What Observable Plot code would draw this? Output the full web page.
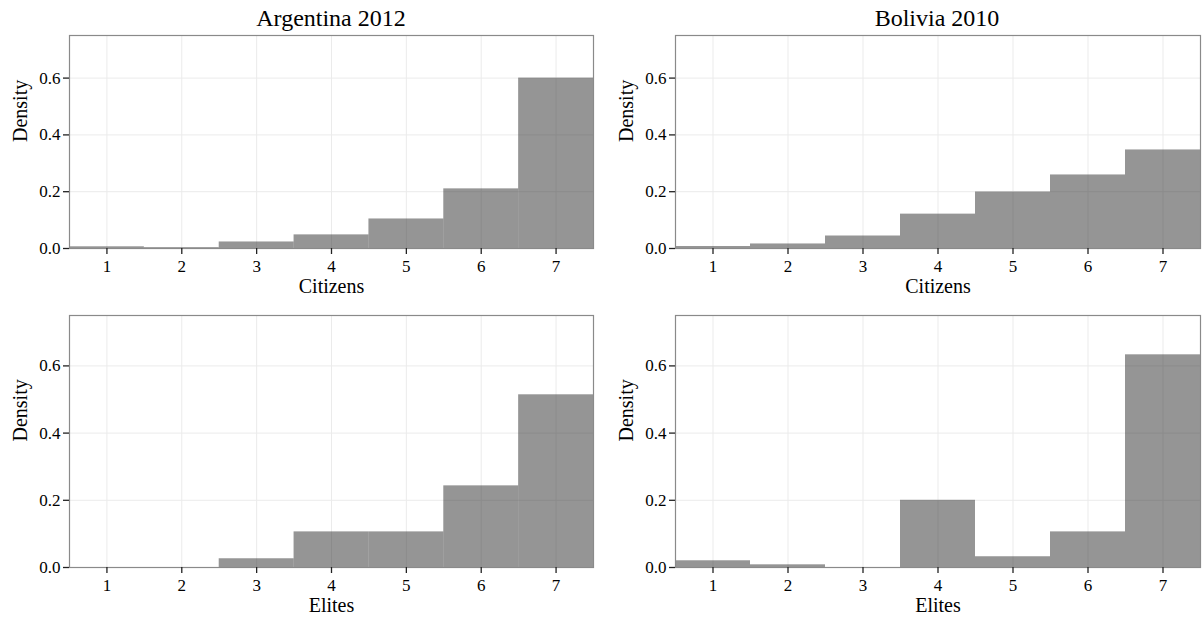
<!DOCTYPE html>
<html>
<head>
<meta charset="utf-8">
<script src="https://cdn.jsdelivr.net/npm/d3@7"></script>
<script src="https://cdn.jsdelivr.net/npm/@observablehq/plot@0.6"></script>
<style>
  html, body { margin: 0; padding: 0; background: #fff; }
  #wrap { position: relative; width: 1204px; height: 617px; font-family: "Liberation Serif", "Times New Roman", serif; }
  .panel { position: absolute; }
  .title { position: absolute; font-size: 24px; color: #000; text-align: center; width: 524px; line-height: 1; }
</style>
</head>
<body>
<div id="wrap"></div>
<script>
// Response categories (1..7)
const categories = [1, 2, 3, 4, 5, 6, 7];
// Density values
const argentinaCitizens = [0.006, 0.003, 0.023, 0.048, 0.104, 0.210, 0.600];
const boliviaCitizens   = [0.007, 0.016, 0.044, 0.121, 0.199, 0.259, 0.347];
const argentinaElites   = [0.000, 0.000, 0.026, 0.106, 0.106, 0.243, 0.514];
const boliviaElites     = [0.020, 0.008, 0.000, 0.200, 0.032, 0.106, 0.633];
const yTicks = [0, 0.2, 0.4, 0.6];
const titles = ["Argentina 2012", "Bolivia 2010"];

const panels = [
  {values: argentinaCitizens, label: "Citizens", left: 0,   top: 0,   height: 300, mL: 69, mR: 9, mT: 35, mB: 52},
  {values: boliviaCitizens,   label: "Citizens", left: 602, top: 0,   height: 300, mL: 73, mR: 4, mT: 35, mB: 52},
  {values: argentinaElites,   label: "Elites",   left: 0,   top: 300, height: 317, mL: 69, mR: 9, mT: 15, mB: 50},
  {values: boliviaElites,     label: "Elites",   left: 602, top: 300, height: 317, mL: 73, mR: 4, mT: 15, mB: 50}
];

const wrap = document.getElementById("wrap");
const serif = "'Liberation Serif', 'Times New Roman', serif";

panels.forEach(p => {
  const data = categories.map((c, i) => ({x: c, density: p.values[i]}));
  const chart = Plot.plot({
    width: 602,
    height: p.height,
    marginLeft: p.mL,
    marginRight: p.mR,
    marginTop: p.mT,
    marginBottom: p.mB,
    style: {fontFamily: serif, fontSize: "17px", color: "#000", background: "#fff", overflow: "visible"},
    x: {domain: [0.5, 7.5], label: null},
    y: {domain: [0, 0.75], label: null},
    marks: [
      Plot.gridX(categories, {stroke: "#ebebeb", strokeOpacity: 1, strokeWidth: 1}),
      Plot.gridY(yTicks.slice(1), {stroke: "#ebebeb", strokeOpacity: 1, strokeWidth: 1}),
      Plot.rectY(data, {x1: d => d.x - 0.5, x2: d => d.x + 0.5, y: "density", fill: "#333333", fillOpacity: 0.52}),
      Plot.frame({stroke: "#8a8a8a", strokeWidth: 1.2}),
      Plot.axisX(categories, {tickSize: 6, tickPadding: 5, stroke: "#222", strokeWidth: 1.3, fontSize: 17,
        tickFormat: d3.format("d"), label: null, fill: "#000"}),
      Plot.axisY(yTicks, {tickSize: 6, tickPadding: 3, stroke: "#222", strokeWidth: 1.3, fontSize: 17,
        tickFormat: d3.format(".1f"), label: null, fill: "#000"}),
      Plot.text([p.label], {text: d => d, frameAnchor: "bottom", lineAnchor: "middle", dy: 38, fontSize: 20, fill: "#000"}),
      Plot.text(["Density"], {text: d => d, frameAnchor: "left", lineAnchor: "middle", rotate: -90, dx: -49, fontSize: 20, fill: "#000"})
    ]
  });
  chart.classList.add("panel");
  chart.style.left = p.left + "px";
  chart.style.top = p.top + "px";
  wrap.appendChild(chart);
});

titles.forEach((t, i) => {
  const d = document.createElement("div");
  d.className = "title";
  d.textContent = t;
  d.style.left = (i === 0 ? 69 : 675) + "px";
  d.style.top = "6px";
  wrap.appendChild(d);
});
</script>
</body>
</html>
